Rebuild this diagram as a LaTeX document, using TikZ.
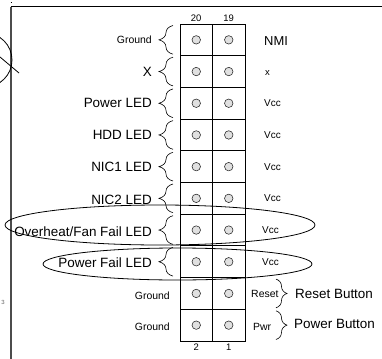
\documentclass[tikz,border=0pt]{standalone}
\usepackage{fontspec}
\setmainfont{Liberation Sans}
\usetikzlibrary{decorations.pathreplacing,calc}
\tikzset{
 cell/.style={draw, line width=1pt, minimum width=32.5bp, minimum height=31.7bp, inner sep=0pt, outer sep=0pt},
 pinhole/.style={circle, draw=black!85, fill=black!12, line width=0.55pt, minimum size=8.5bp, inner sep=0pt},
 big/.style={font=\fontsize{13.5}{15}\selectfont, inner sep=0pt},
 mid/.style={font=\fontsize{13}{15}\selectfont, inner sep=0pt},
 small/.style={font=\fontsize{10.5}{12}\selectfont, inner sep=0pt},
 tiny/.style={font=\fontsize{9.5}{11}\selectfont, inner sep=0pt},
 vcc/.style={font=\fontsize{10}{11}\selectfont, inner sep=0pt},
 lbrace/.style={decorate, decoration={brace, amplitude=14bp}, line width=0.6pt},
 rbrace/.style={decorate, decoration={brace, amplitude=11bp}, line width=0.6pt},
 ring/.style={line width=0.8pt},
}
\begin{document}
\begin{tikzpicture}[x=1bp,y=-1bp]
\useasboundingbox (0,0) rectangle (382,359);
\clip (0,0) rectangle (382,359);
% frame
\draw[line width=1.3pt, black!70] (11,359) -- (11,6.5);
\draw[line width=0.8pt] (11,6.5) -- (382,6.5);
\draw[line width=0.6pt] (10.5,2) -- (11.8,2);
% partial circle at left
\draw[ring] (-15,60) circle (27);
\draw[ring] (0,57) -- (19,73);
\node[font=\fontsize{6}{7}\selectfont, text=black!60, inner sep=0pt] (three) at (3,302) {3};
% grid
\foreach \i in {0,...,9}{
 \pgfmathsetmacro\yc{24+31.7*\i+15.85}
 \node[cell] (L\i) at (196.25,\yc) {};
 \node[cell] (R\i) at (228.75,\yc) {};
 \node[pinhole] (pL\i) at (L\i) {};
 \node[pinhole] (pR\i) at (R\i) {};
}
% pin numbers
\node[tiny, anchor=south] (n20) at ($(L0.north)+(0,-2)$) {20};
\node[tiny, anchor=south] (n19) at ($(R0.north)+(0,-2)$) {19};
\node[tiny, anchor=north] (n2) at ($(L9.south)+(0,3)$) {2};
\node[tiny, anchor=north] (n1) at ($(R9.south)+(0,3)$) {1};
% left braces
\foreach \i in {0,...,7}{
 \draw[lbrace] ($(L\i.south west)+(-7,-1.5)$) -- ($(L\i.north west)+(-7,1.5)$);
}
% right braces
\foreach \i in {8,9}{
 \draw[rbrace] ($(R\i.north east)+(31,1.5)$) -- ($(R\i.south east)+(31,-1.5)$);
}
% left labels
\node[small, anchor=east] (l0) at ($(L0.west)+(-28,0)$) {Ground};
\node[big, anchor=east] (l1) at ($(L1.west)+(-28,0)$) {X};
\node[big, anchor=east] (l2) at ($(L2.west)+(-28,0)$) {Power LED};
\node[big, anchor=east] (l3) at ($(L3.west)+(-28,0)$) {HDD LED};
\node[big, anchor=east] (l4) at ($(L4.west)+(-28,0)$) {NIC1 LED};
\node[big, anchor=east] (l5) at ($(L5.west)+(-28,1.5)$) {NIC2 LED};
\node[big, anchor=east] (l6) at ($(L6.west)+(-28,2)$) {Overheat/Fan Fail LED};
\node[big, anchor=east] (l7) at ($(L7.west)+(-28,1)$) {Power Fail LED};
\node[small, anchor=east] (l8) at ($(L8.west)+(-10,2)$) {Ground};
\node[small, anchor=east] (l9) at ($(L9.west)+(-10,2)$) {Ground};
% right labels
\node[mid, anchor=west] (r0) at ($(R0.east)+(19,1)$) {NMI};
\node[tiny, anchor=west] (r1) at ($(R1.east)+(20,1)$) {x};
\node[vcc, anchor=west] (r2) at ($(R2.east)+(19,0)$) {Vcc};
\node[vcc, anchor=west] (r3) at ($(R3.east)+(19,0)$) {Vcc};
\node[vcc, anchor=west] (r4) at ($(R4.east)+(19,0)$) {Vcc};
\node[vcc, anchor=west] (r5) at ($(R5.east)+(19,0)$) {Vcc};
\node[vcc, anchor=west] (r6) at ($(R6.east)+(17,0)$) {Vcc};
\node[vcc, anchor=west] (r7) at ($(R7.east)+(17,0)$) {Vcc};
\node[small, anchor=west] (r8) at ($(R8.east)+(6,0)$) {Reset};
\node[small, anchor=west] (r9) at ($(R9.east)+(8,2)$) {Pwr};
\node[big, anchor=west] (b8) at ($(R8.east)+(50,0)$) {Reset Button};
\node[big, anchor=west] (b9) at ($(R9.east)+(49,-1)$) {Power Button};
% highlight ellipses
\draw[ring] (160,225) ellipse [x radius=155, y radius=20];
\draw[ring] (177.5,264) ellipse [x radius=134.5, y radius=16];
\end{tikzpicture}
\end{document}
